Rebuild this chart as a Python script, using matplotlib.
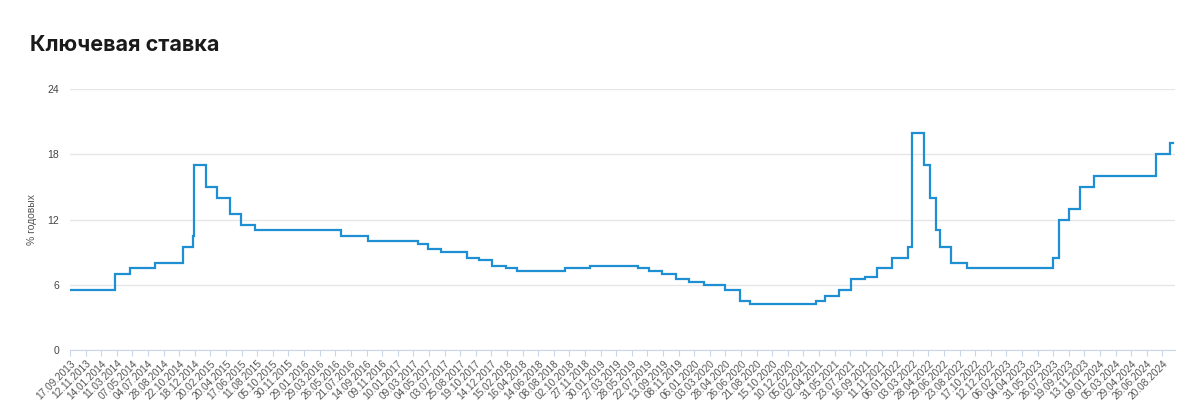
import numpy as np
import pandas as pd
import matplotlib
matplotlib.use("Agg")
import matplotlib.pyplot as plt

# key rate decisions (date from which the rate applies, % per year)
rate_dates = [
    "17.09.2013", "03.03.2014", "28.04.2014", "28.07.2014", "05.11.2014",
    "12.12.2014", "16.12.2014", "02.02.2015", "16.03.2015", "05.05.2015",
    "16.06.2015", "03.08.2015", "14.06.2016", "19.09.2016", "27.03.2017",
    "02.05.2017", "19.06.2017", "18.09.2017", "30.10.2017", "18.12.2017",
    "12.02.2018", "26.03.2018", "17.09.2018", "17.12.2018", "17.06.2019",
    "29.07.2019", "09.09.2019", "28.10.2019", "16.12.2019", "10.02.2020",
    "27.04.2020", "22.06.2020", "27.07.2020", "22.03.2021", "26.04.2021",
    "15.06.2021", "26.07.2021", "13.09.2021", "25.10.2021", "20.12.2021",
    "14.02.2022", "28.02.2022", "11.04.2022", "04.05.2022", "27.05.2022",
    "14.06.2022", "25.07.2022", "19.09.2022", "24.07.2023", "15.08.2023",
    "18.09.2023", "30.10.2023", "18.12.2023", "29.07.2024", "16.09.2024",
]
rate_values = [
    5.5, 7.0, 7.5, 8.0, 9.5,
    10.5, 17.0, 15.0, 14.0, 12.5,
    11.5, 11.0, 10.5, 10.0, 9.75,
    9.25, 9.0, 8.5, 8.25, 7.75,
    7.5, 7.25, 7.5, 7.75, 7.5,
    7.25, 7.0, 6.5, 6.25, 6.0,
    5.5, 4.5, 4.25, 4.5, 5.0,
    5.5, 6.5, 6.75, 7.5, 8.5,
    9.5, 20.0, 17.0, 14.0, 11.0,
    9.5, 8.0, 7.5, 8.5, 12.0,
    13.0, 15.0, 16.0, 18.0, 19.0,
]
end_date = "25.09.2024"

tick_labels = [
    "17.09.2013", "12.11.2013",
    "14.01.2014", "11.03.2014", "07.05.2014", "04.07.2014", "28.08.2014", "22.10.2014", "18.12.2014",
    "20.02.2015", "20.04.2015", "17.06.2015", "11.08.2015", "05.10.2015", "30.11.2015",
    "29.01.2016", "29.03.2016", "26.05.2016", "21.07.2016", "14.09.2016", "09.11.2016",
    "10.01.2017", "09.03.2017", "04.05.2017", "03.07.2017", "25.08.2017", "19.10.2017", "14.12.2017",
    "15.02.2018", "16.04.2018", "14.06.2018", "08.08.2018", "02.10.2018", "27.11.2018",
    "30.01.2019", "27.03.2019", "28.05.2019", "22.07.2019", "13.09.2019", "08.11.2019",
    "06.01.2020", "03.03.2020", "28.04.2020", "26.06.2020", "21.08.2020", "15.10.2020", "10.12.2020",
    "05.02.2021", "02.04.2021", "31.05.2021", "23.07.2021", "16.09.2021", "11.11.2021",
    "06.01.2022", "03.03.2022", "28.04.2022", "29.06.2022", "23.08.2022", "17.10.2022", "12.12.2022",
    "06.02.2023", "04.04.2023", "31.05.2023", "26.07.2023", "19.09.2023", "13.11.2023",
    "09.01.2024", "05.03.2024", "29.04.2024", "26.06.2024", "20.08.2024",
]


def to_ord(strings):
    return pd.to_datetime(pd.Series(strings), format="%d.%m.%Y").map(pd.Timestamp.toordinal).to_numpy(float)


# the axis is a category axis: map dates onto tick positions
tick_ord = to_ord(tick_labels)
tick_pos = np.arange(len(tick_labels), dtype=float)


def to_pos(strings):
    o = to_ord(strings)
    p = np.interp(o, tick_ord, tick_pos)
    slope = (tick_pos[-1] - tick_pos[-2]) / (tick_ord[-1] - tick_ord[-2])
    after = o > tick_ord[-1]
    p[after] = tick_pos[-1] + (o[after] - tick_ord[-1]) * slope
    return p


x = np.append(to_pos(rate_dates), to_pos([end_date]))
y = np.append(rate_values, rate_values[-1])

plt.rcParams['font.family'] = ['Liberation Sans', 'DejaVu Sans']

fig = plt.figure(figsize=(12, 4.2), dpi=100)
ax = fig.add_axes([70 / 1200, 1 - 350 / 420, 1105 / 1200, 261 / 420])

ax.step(x, y, where='post', color='#1f8fd4', lw=1.6, solid_joinstyle='miter')

ax.set_ylim(0, 24)
ax.set_yticks([0, 6, 12, 18, 24])
ax.set_xlim(0, x[-1] + 0.15)
ax.set_xticks(tick_pos)
ax.set_xticklabels(tick_labels, rotation=45, ha='right', va='top',
                   rotation_mode='anchor', fontsize=7.3, color='#555555')
ax.grid(axis='y', color='#e6e6e6', lw=1)
ax.set_axisbelow(True)
for s in ['top', 'right', 'left']:
    ax.spines[s].set_visible(False)
ax.spines['bottom'].set_color('#ccd6eb')
ax.tick_params(axis='x', length=4, color='#ccd6eb', pad=2)
ax.tick_params(axis='y', length=0, labelsize=7.5, labelcolor='#444444', pad=8)
ax.set_ylabel('% годовых', fontsize=7.5, color='#555555', labelpad=7)

fig.text(30 / 1200, 1 - 51 / 420, 'Ключевая ставка', fontsize=15.5, fontweight='bold',
         color='#1a1a1a', family=['Inter', 'DejaVu Sans'])

fig.savefig('out.png', dpi=100)
